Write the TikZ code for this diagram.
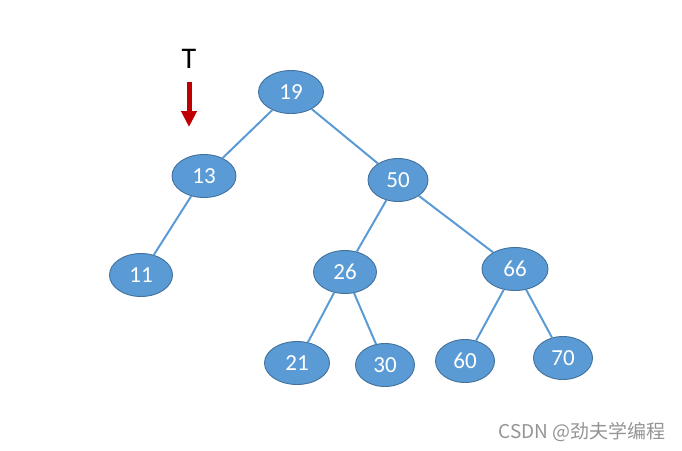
\documentclass[tikz,border=0pt]{standalone}
\usepackage{fontspec}
\setmainfont{Carlito}
\newfontfamily\cjkfont{Noto Sans CJK SC}
\usetikzlibrary{shapes.geometric,arrows.meta}
\definecolor{nodefill}{HTML}{5B9BD5}
\definecolor{nodeline}{HTML}{41719C}
\definecolor{arrred}{HTML}{C00000}
\tikzset{
  tnode/.style={ellipse, fill=nodefill, draw=nodeline, line width=0.9pt,
    minimum width=#1, minimum height=43pt, inner sep=0pt, text=white,
    font=\fontsize{23}{23}\selectfont},
  tnode/.default=64pt,
  edge/.style={draw=nodefill, line width=2pt},
}
\begin{document}
\begin{tikzpicture}[x=1pt,y=-1pt]
\useasboundingbox (0,0) rectangle (682,450);
\node[tnode=65pt] (n19) at (291,92) {19};
\node[tnode=64pt] (n13) at (204,176) {13};
\node[tnode=60pt] (n50) at (398,180) {50};
\node[tnode=63pt] (n11) at (141,275) {11};
\node[tnode=63pt] (n26) at (345,272) {26};
\node[tnode=66pt] (n66) at (515,269) {66};
\node[tnode=65pt] (n21) at (297,363) {21};
\node[tnode=59pt] (n30) at (385,365) {30};
\node[tnode=59pt] (n60) at (465,361) {60};
\node[tnode=59pt] (n70) at (563,358) {70};
\draw[edge] (n19) -- (n13);
\draw[edge] (n19) -- (n50);
\draw[edge] (n13) -- (n11);
\draw[edge] (n50) -- (n26);
\draw[edge] (n50) -- (n66);
\draw[edge] (n26) -- (n21);
\draw[edge] (n26) -- (n30);
\draw[edge] (n66) -- (n60);
\draw[edge] (n66) -- (n70);
\node[font=\fontsize{30}{30}\selectfont, inner sep=0pt] (tlabel) at (189,59) {T};
\coordinate (tstart) at (189,82);
\coordinate (tend) at (189,127);
\draw[arrred, line width=5pt, -{Triangle[length=16pt,width=15pt]}] (tstart) -- (tend);
\node[font=\cjkfont\fontsize{19}{19}\selectfont, text=black!42, inner sep=0pt] (wm) at (582,432) {CSDN @劲夫学编程};
\end{tikzpicture}
\end{document}
